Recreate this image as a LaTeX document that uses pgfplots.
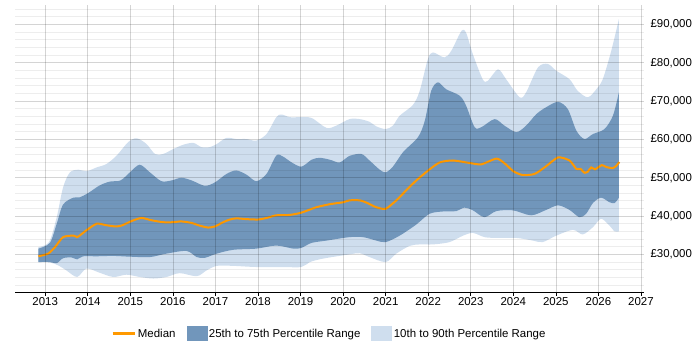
\documentclass[border=0pt]{standalone}
\usepackage{fontspec}
\setmainfont{Liberation Sans}
\usepackage{pgfplots}
\pgfplotsset{compat=1.18}
\usepgfplotslibrary{fillbetween}

\definecolor{medianorange}{RGB}{255,153,0}
\definecolor{iqrblue}{RGB}{113,150,187}
\definecolor{decileblue}{RGB}{207,222,238}

\newcommand{\lblfont}{\fontsize{11.5}{13}\selectfont}

\begin{document}
\begin{tikzpicture}
\begin{axis}[
  at={(15bp,57.3bp)}, anchor=south west,
  scale only axis, width=629bp, height=287.4bp,
  xmin=2012.29, xmax=2027.07, ymin=20000, ymax=95000,
  enlargelimits=false,
  axis on top,
  axis x line*=bottom, axis y line*=right,
  x axis line style={black, line width=0.8bp, -},
  y axis line style={draw=none},
  xtick={2013,...,2027},
  xticklabel style={/pgf/number format/1000 sep={}, font=\lblfont, yshift=2bp},
  /pgf/number format/assume math mode=true,
  xtick style={black, line width=0.6bp},
  tick align=outside, major tick length=3bp,
  scaled y ticks=false,
  ytick={30000,40000,50000,60000,70000,80000,90000},
  minor ytick={22000,24000,26000,28000,32000,34000,36000,38000,42000,44000,46000,48000,52000,54000,56000,58000,62000,64000,66000,68000,72000,74000,76000,78000,82000,84000,86000,88000,92000,94000},
  ytick style={draw=none}, minor y tick style={draw=none},
  yticklabel={£\pgfmathprintnumber[assume math mode=true,1000 sep={,}]{\tick}},
  yticklabel style={font=\lblfont, anchor=west},
  xmajorgrids, ymajorgrids, yminorgrids,
  major grid style={black, opacity=0.17, line width=0.6bp},
  minor grid style={black, opacity=0.07, line width=0.6bp},
  legend style={draw=none, fill=none, at={(0.5,-0.1425)}, anchor=center,
    legend columns=-1, font=\lblfont,
    /tikz/every even column/.append style={column sep=9bp}},
]
% legend entries
\addlegendimage{legend image code/.code={\draw[medianorange, line width=2.4bp] (0bp,0bp) -- (22bp,0bp);}}
\addlegendentry{Median}
\addlegendimage{legend image code/.code={\fill[iqrblue] (0bp,-7bp) rectangle (20bp,7bp);}}
\addlegendentry{25th to 75th Percentile Range}
\addlegendimage{legend image code/.code={\fill[decileblue] (0bp,-7bp) rectangle (20bp,7bp);}}
\addlegendentry{10th to 90th Percentile Range}

% 90th percentile
\addplot[name path=p90, draw=none, smooth, forget plot] coordinates {
(2012.84,31900)(2013.09,33200)(2013.27,39700)(2013.42,47500)(2013.58,51400)(2013.78,52100)(2013.97,51700)(2014.21,52700)(2014.44,53600)(2014.68,55800)(2014.95,59300)(2015.15,60300)(2015.38,58800)(2015.58,56200)(2015.77,56200)(2016.01,57500)(2016.24,58600)(2016.48,59100)(2016.67,58000)(2016.87,58000)(2017.03,58800)(2017.26,60400)(2017.49,60100)(2017.73,60100)(2017.96,59700)(2018.20,61400)(2018.43,65800)(2018.55,66500)(2018.75,65800)(2018.98,65800)(2019.26,65600)(2019.61,63000)(2019.84,63600)(2020.15,65300)(2020.39,65300)(2020.62,64600)(2020.78,63400)(2021.00,62700)(2021.17,63600)(2021.33,66200)(2021.64,69000)(2021.80,72700)(2021.99,80900)(2022.11,82700)(2022.38,81400)(2022.54,83100)(2022.78,88300)(2022.89,87800)(2023.05,82200)(2023.28,75700)(2023.40,75300)(2023.64,78300)(2023.83,75700)(2024.15,71000)(2024.30,72300)(2024.58,78800)(2024.81,79700)(2025.01,77900)(2025.32,75700)(2025.51,72700)(2025.75,71000)(2025.95,73100)(2026.10,75700)(2026.30,83100)(2026.48,91400)
};
% 10th percentile
\addplot[name path=p10, draw=none, smooth, forget plot] coordinates {
(2012.84,28000)(2013.11,27900)(2013.31,27100)(2013.50,25800)(2013.75,24100)(2013.97,26300)(2014.28,25200)(2014.60,24100)(2014.91,24700)(2015.22,24100)(2015.54,23700)(2015.85,24100)(2016.16,25100)(2016.56,24300)(2016.79,25800)(2017.03,27000)(2017.42,27000)(2017.96,26700)(2018.59,26700)(2019.02,26700)(2019.22,28000)(2019.53,28900)(2020.15,30000)(2020.39,30300)(2020.62,29300)(2021.00,28000)(2021.25,30200)(2021.56,32200)(2021.80,32600)(2022.11,32600)(2022.50,33200)(2022.82,34900)(2023.05,35600)(2023.32,34500)(2023.60,34300)(2024.07,34300)(2024.46,33600)(2024.69,33200)(2025.01,34900)(2025.40,36400)(2025.63,35200)(2025.87,37100)(2026.06,39300)(2026.26,37500)(2026.38,36000)(2026.48,36000)
};
% 75th percentile
\addplot[name path=p75, draw=none, smooth, forget plot] coordinates {
(2012.84,31500)(2013.11,33000)(2013.27,38000)(2013.42,43000)(2013.66,44800)(2013.81,44900)(2014.01,46000)(2014.28,48000)(2014.52,49000)(2014.77,49300)(2014.99,51400)(2015.22,53400)(2015.46,51400)(2015.73,49100)(2015.97,49300)(2016.20,50000)(2016.44,49300)(2016.75,47900)(2016.99,48800)(2017.26,51000)(2017.49,51900)(2017.73,50800)(2017.96,49100)(2018.20,51000)(2018.43,55800)(2018.59,55500)(2018.79,54000)(2019.02,52900)(2019.26,54700)(2019.45,55200)(2019.69,54700)(2019.92,54000)(2020.15,55700)(2020.43,56200)(2020.62,54500)(2020.86,52100)(2021.00,51400)(2021.17,52900)(2021.41,56700)(2021.76,60600)(2021.92,64900)(2022.07,72700)(2022.23,74900)(2022.42,73100)(2022.74,71400)(2022.89,68800)(2023.09,63200)(2023.25,63200)(2023.56,65300)(2023.79,63600)(2024.07,61900)(2024.30,63600)(2024.54,66600)(2024.77,68400)(2025.05,69800)(2025.28,67900)(2025.48,62300)(2025.67,60100)(2025.87,61400)(2026.14,62700)(2026.34,66200)(2026.48,72300)
};
% 25th percentile
\addplot[name path=p25, draw=none, smooth, forget plot] coordinates {
(2012.84,28000)(2013.11,28000)(2013.27,27700)(2013.42,29000)(2013.62,29200)(2013.75,28700)(2013.89,29500)(2014.21,29500)(2014.60,29600)(2014.99,29400)(2015.46,29300)(2015.85,30200)(2016.32,30900)(2016.56,29300)(2016.75,29100)(2017.03,30200)(2017.42,31200)(2017.96,31500)(2018.43,32300)(2018.83,31500)(2019.02,31700)(2019.26,33000)(2019.61,33600)(2020.15,34500)(2020.47,34500)(2020.78,33600)(2021.00,33200)(2021.33,34900)(2021.72,37800)(2022.03,40600)(2022.35,41200)(2022.66,41300)(2022.85,42200)(2023.05,41500)(2023.32,39700)(2023.60,41300)(2023.99,41500)(2024.42,40200)(2024.77,41600)(2025.05,42800)(2025.32,41600)(2025.55,39700)(2025.71,40600)(2025.87,43400)(2026.06,44800)(2026.26,43600)(2026.38,43400)(2026.48,44800)
};

\addplot[decileblue, draw=none, forget plot] fill between[of=p90 and p10];
\addplot[iqrblue, draw=none, forget plot] fill between[of=p75 and p25];

% median
\addplot[medianorange, line width=2bp, smooth, tension=0.4, forget plot] coordinates {
(2012.84,29500)(2013.07,30200)(2013.23,31900)(2013.42,34500)(2013.66,34900)(2013.75,34500)(2013.81,34900)(2013.97,36300)(2014.21,38000)(2014.44,37600)(2014.64,37300)(2014.79,37500)(2015.03,38700)(2015.26,39500)(2015.50,38900)(2015.77,38400)(2016.01,38400)(2016.20,38600)(2016.44,38200)(2016.63,37500)(2016.83,37000)(2016.99,37300)(2017.18,38400)(2017.34,39100)(2017.49,39400)(2017.73,39200)(2018.00,39100)(2018.20,39500)(2018.43,40200)(2018.75,40300)(2019.02,40900)(2019.37,42300)(2019.69,43100)(2020.00,43600)(2020.15,44100)(2020.39,44100)(2020.55,43500)(2020.78,42300)(2021.00,41900)(2021.25,44100)(2021.49,46800)(2021.72,49300)(2022.00,51900)(2022.27,54000)(2022.58,54500)(2023.00,53800)(2023.25,53500)(2023.60,55000)(2023.79,53800)(2024.00,51700)(2024.22,50700)(2024.50,51000)(2024.77,53000)(2025.05,55300)(2025.32,54500)(2025.48,52300)(2025.58,52300)(2025.67,51300)(2025.75,51600)(2025.83,52700)(2025.92,52200)(2026.08,53300)(2026.18,52800)(2026.34,52500)(2026.41,53000)(2026.49,54100)
};
\end{axis}
\path (0,0) rectangle (700bp,350bp);
\end{tikzpicture}
\end{document}
